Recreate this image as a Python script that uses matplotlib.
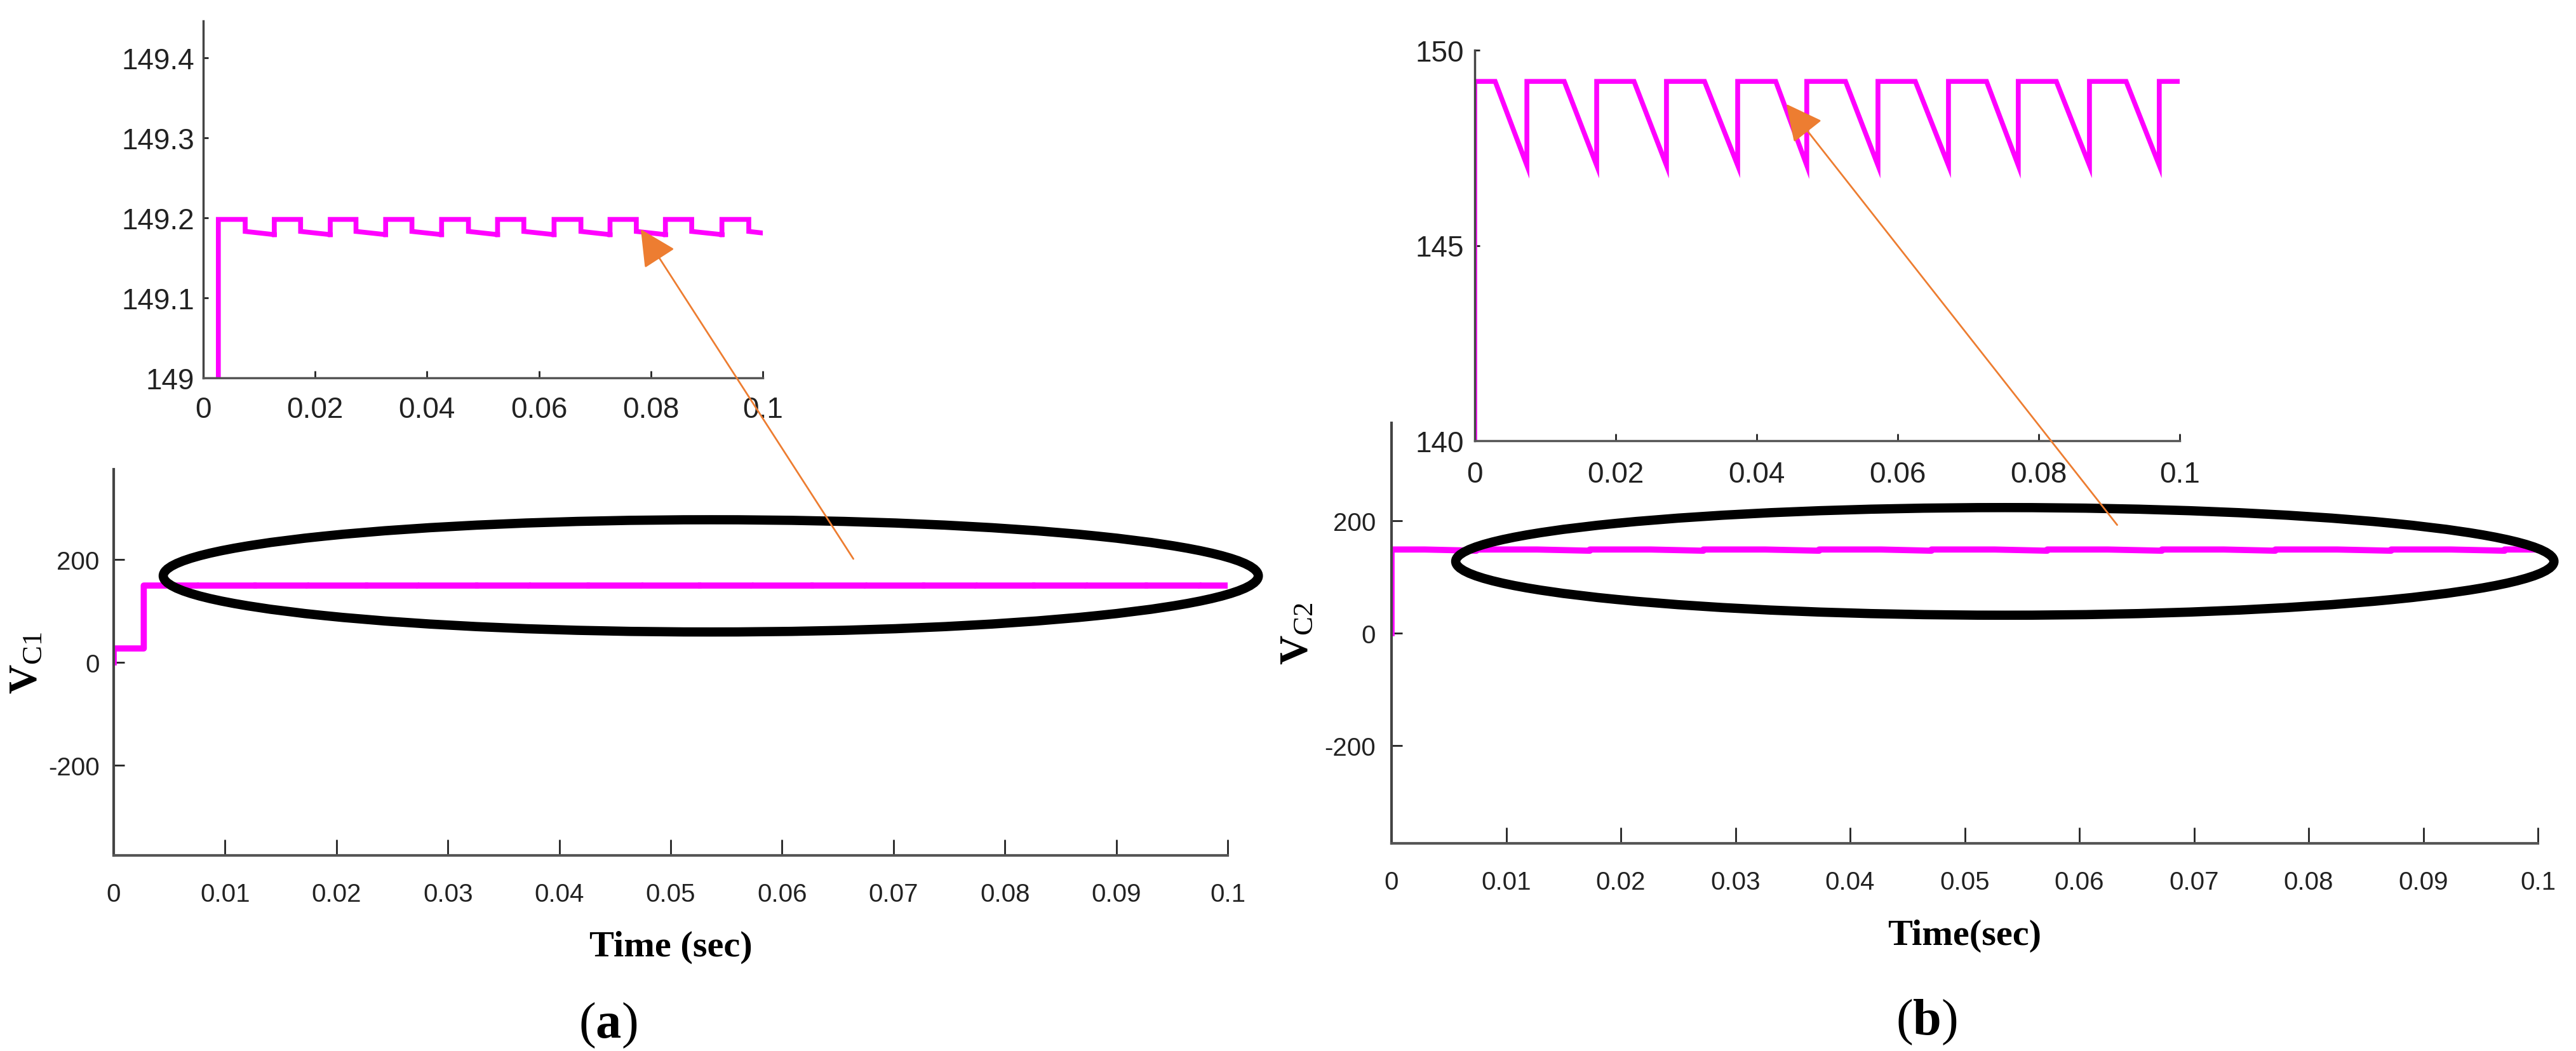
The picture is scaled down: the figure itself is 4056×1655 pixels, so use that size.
import matplotlib
matplotlib.use("Agg")
import matplotlib.pyplot as plt
from matplotlib.patches import Ellipse, ConnectionPatch

# ---------------- data ----------------
# panel (a): capacitor voltage V_C1
t_a = [0.0, 0.0, 0.0027, 0.0027,
       0.0075, 0.0075, 0.0127, 0.0127, 0.0127,
       0.0174, 0.0174, 0.0227, 0.0227, 0.0227,
       0.0273, 0.0273, 0.0326, 0.0326, 0.0326,
       0.0373, 0.0373, 0.0426, 0.0426, 0.0426,
       0.0474, 0.0474, 0.0526, 0.0526, 0.0526,
       0.0573, 0.0573, 0.0627, 0.0627, 0.0627,
       0.0675, 0.0675, 0.0727, 0.0727, 0.0727,
       0.0774, 0.0774, 0.0826, 0.0826, 0.0826,
       0.0873, 0.0873, 0.0927, 0.0927, 0.0927,
       0.0975, 0.0975, 0.1]
v_a = [0.0, 27.0, 27.0, 149.198,
       149.198, 149.183, 149.179, 149.176, 149.198,
       149.198, 149.183, 149.179, 149.176, 149.198,
       149.198, 149.183, 149.179, 149.176, 149.198,
       149.198, 149.183, 149.179, 149.176, 149.198,
       149.198, 149.183, 149.179, 149.176, 149.198,
       149.198, 149.183, 149.179, 149.176, 149.198,
       149.198, 149.183, 149.179, 149.176, 149.198,
       149.198, 149.183, 149.179, 149.176, 149.198,
       149.198, 149.183, 149.179, 149.176, 149.198,
       149.198, 149.183, 149.181]

# panel (b): capacitor voltage V_C2
t_b = [0.0, 0.0, 0.0029,
       0.0074, 0.0074, 0.0127,
       0.0173, 0.0173, 0.0226,
       0.0272, 0.0272, 0.0326,
       0.0373, 0.0373, 0.0427,
       0.0471, 0.0471, 0.0526,
       0.0572, 0.0572, 0.0625,
       0.0672, 0.0672, 0.0726,
       0.0771, 0.0771, 0.0825,
       0.0872, 0.0872, 0.0924,
       0.0971, 0.0971, 0.1]
v_b = [0.0, 149.2, 149.2,
       147.05, 149.2, 149.2,
       147.05, 149.2, 149.2,
       147.05, 149.2, 149.2,
       147.05, 149.2, 149.2,
       147.05, 149.2, 149.2,
       147.05, 149.2, 149.2,
       147.05, 149.2, 149.2,
       147.05, 149.2, 149.2,
       147.05, 149.2, 149.2,
       147.05, 149.2, 149.2]

main_xticks = [0, 0.01, 0.02, 0.03, 0.04, 0.05, 0.06, 0.07, 0.08, 0.09, 0.1]
main_xlabels = ["0", "0.01", "0.02", "0.03", "0.04", "0.05", "0.06", "0.07", "0.08", "0.09", "0.1"]
main_yticks = [-200, 0, 200]
main_ylabels = ["-200", "0", "200"]
inset_xticks = [0, 0.02, 0.04, 0.06, 0.08, 0.1]
inset_xlabels = ["0", "0.02", "0.04", "0.06", "0.08", "0.1"]
inset_a_yticks = [149, 149.1, 149.2, 149.3, 149.4]
inset_a_ylabels = ["149", "149.1", "149.2", "149.3", "149.4"]
inset_b_yticks = [140, 145, 150]
inset_b_ylabels = ["140", "145", "150"]

# ---------------- style ----------------
plt.rcParams["mathtext.fontset"] = "custom"
plt.rcParams["mathtext.rm"] = "Liberation Serif"
plt.rcParams["mathtext.bf"] = "Liberation Serif:bold"
plt.rcParams["mathtext.it"] = "Liberation Serif:italic"

TICKFONT = ["Liberation Sans Narrow", "Liberation Sans", "DejaVu Sans"]
SERIF = ["Liberation Serif", "DejaVu Serif"]
MAGENTA = "#FF00FF"
ORANGE = "#ED7D31"

W, H = 4056, 1656
fig = plt.figure(figsize=(W / 100, H / 100), dpi=100)


def px_axes(x0, y0, x1, y1):
    return [x0 / W, 1 - y1 / H, (x1 - x0) / W, (y1 - y0) / H]


def style_axes(ax, xt, xl, yt, yl, fs, xlen, ylen, xpad, ypad, spine_lw):
    for s in ("top", "right"):
        ax.spines[s].set_visible(False)
    ax.spines["left"].set_color("#444444")
    ax.spines["bottom"].set_color("#555555")
    ax.spines["left"].set_linewidth(spine_lw)
    ax.spines["bottom"].set_linewidth(spine_lw)
    ax.set_xticks(xt)
    ax.set_xticklabels(xl)
    ax.set_yticks(yt)
    ax.set_yticklabels(yl)
    ax.tick_params(axis="x", direction="in", length=xlen, width=2, pad=xpad,
                   colors="#222222", labelsize=fs)
    ax.tick_params(axis="y", direction="in", length=ylen, width=2, pad=ypad,
                   colors="#222222", labelsize=fs)
    for lab in ax.get_xticklabels() + ax.get_yticklabels():
        lab.set_family(TICKFONT)
    ax.set_facecolor("none")


# ---------------- panel (a) ----------------
ax_a = fig.add_axes(px_axes(179, 740, 1933, 1348))
ax_a.plot(t_a, v_a, color=MAGENTA, lw=7, solid_joinstyle="round",
          antialiased=True)
ax_a.set_xlim(0, 0.1)
ax_a.set_ylim(-375, 375)
style_axes(ax_a, main_xticks, main_xlabels, main_yticks, main_ylabels,
           29, 18, 12, 30, 16, 3)
ax_a.add_patch(Ellipse((0.0536, 168), 0.0983, 218, fill=False, ec="black",
                       lw=10.5, clip_on=False, zorder=5))
ax_a.set_xlabel("Time (sec)", family=SERIF, fontweight="bold", fontsize=42)
ax_a.xaxis.set_label_coords(0.5, -0.237)
ax_a.xaxis.label.set_va("center")
ax_a.set_ylabel(r"$\mathbf{V}_{\mathrm{C1}}$", fontsize=46)
ax_a.yaxis.set_label_coords(-0.079, 0.5)
ax_a.yaxis.label.set_va("center")

ins_a = fig.add_axes(px_axes(320, 34, 1201, 596))
ins_a.plot(t_a, v_a, color=MAGENTA, lw=5.5, solid_joinstyle="miter")
ins_a.set_xlim(0, 0.1)
ins_a.set_ylim(149, 149.446)
style_axes(ins_a, inset_xticks, inset_xlabels, inset_a_yticks, inset_a_ylabels,
           33, 8, 6, 20, 10, 2.5)

con_a = ConnectionPatch(xyA=(0.0664, 201), coordsA=ax_a.transData,
                        xyB=(0.0782, 149.1857), coordsB=ins_a.transData,
                        arrowstyle="-|>,head_length=0.6,head_width=0.3",
                        mutation_scale=60, color=ORANGE, lw=2, zorder=10)
fig.add_artist(con_a)

# ---------------- panel (b) ----------------
ax_b = fig.add_axes(px_axes(2191, 667, 3996, 1329))
ax_b.plot(t_b, v_b, color=MAGENTA, lw=7, solid_joinstyle="round")
ax_b.set_xlim(0, 0.1)
ax_b.set_ylim(-375, 375)
style_axes(ax_b, main_xticks, main_xlabels, main_yticks, main_ylabels,
           29, 18, 12, 30, 18, 3)
ax_b.add_patch(Ellipse((0.0535, 128), 0.0958, 192, fill=False, ec="black",
                       lw=10.5, clip_on=False, zorder=5))
ax_b.set_xlabel("Time(sec)", family=SERIF, fontweight="bold", fontsize=42)
ax_b.xaxis.set_label_coords(0.5, -0.219)
ax_b.xaxis.label.set_va("center")
ax_b.set_ylabel(r"$\mathbf{V}_{\mathrm{C2}}$", fontsize=46)
ax_b.yaxis.set_label_coords(-0.083, 0.5)
ax_b.yaxis.label.set_va("center")

ins_b = fig.add_axes(px_axes(2322, 80, 3432, 695))
ins_b.plot(t_b, v_b, color=MAGENTA, lw=5.5, solid_joinstyle="miter")
ins_b.set_xlim(0, 0.1)
ins_b.set_ylim(140, 150)
style_axes(ins_b, inset_xticks, inset_xlabels, inset_b_yticks, inset_b_ylabels,
           33, 8, 6, 22, 12, 2.5)

con_b = ConnectionPatch(xyA=(0.0633, 193), coordsA=ax_b.transData,
                        xyB=(0.0442, 148.62), coordsB=ins_b.transData,
                        arrowstyle="-|>,head_length=0.6,head_width=0.3",
                        mutation_scale=60, color=ORANGE, lw=2, zorder=10)
fig.add_artist(con_b)

# ---------------- panel captions ----------------
fig.text(957 / W, 1 - 1615 / H, r"($\mathbf{a}$)", family=SERIF, fontsize=58,
         ha="center", va="center")
fig.text(3033 / W, 1 - 1610 / H, r"($\mathbf{b}$)", family=SERIF, fontsize=58,
         ha="center", va="center")

fig.savefig("out.png", dpi=100, facecolor="white")
